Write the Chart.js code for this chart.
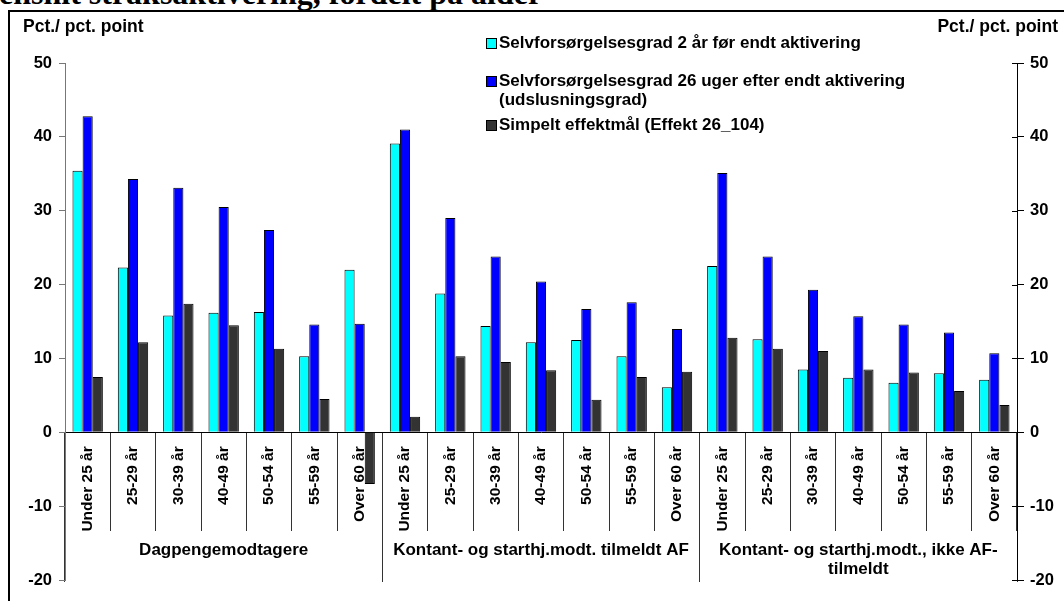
<!DOCTYPE html>
<html>
<head>
<meta charset="utf-8">
<script src="https://cdn.jsdelivr.net/npm/chart.js@4.4.0/dist/chart.umd.min.js"></script>
<style>
  html, body { margin: 0; padding: 0; background: #fff; }
  #wrap { position: relative; width: 1064px; height: 601px; overflow: hidden; }
  #title { position: absolute; left: -1px; top: -23px; font: bold 32px 'Liberation Serif', 'Times New Roman', serif; line-height: 32px; white-space: nowrap; }
  #frame { position: absolute; left: 8px; top: 10px; width: 1100px; height: 700px; border-top: 2px solid #000; border-left: 2px solid #000; }
  #box { position: absolute; left: 0; top: 0; width: 1064px; height: 601px; }
</style>
</head>
<body>
<div id="wrap">
  <div id="title">ensnit straksaktivering, fordelt på alder</div>
  <div id="frame"></div>
  <div id="box"><canvas id="chart"></canvas></div>
</div>
<script>
// Aldersgrupper – gentages for hver af de tre modtagergrupper
const ages = ['Under 25 år', '25-29 år', '30-39 år', '40-49 år', '50-54 år', '55-59 år', 'Over 60 år'];
const groups = ['Dagpengemodtagere', 'Kontant- og starthj.modt. tilmeldt AF', ['Kontant- og starthj.modt., ikke AF-', 'tilmeldt']];
const categories = [...ages, ...ages, ...ages];

// Serier
const selvFoer = [35.4, 22.3, 15.8, 16.2, 16.3, 10.3, 22.0, 39.1, 18.8, 14.4, 12.2, 12.5, 10.3, 6.1, 22.5, 12.6, 8.5, 7.4, 6.7, 8.0, 7.1];
const udslusning = [42.8, 34.3, 33.1, 30.5, 27.4, 14.6, 14.7, 41.0, 29.0, 23.8, 20.4, 16.7, 17.6, 14.0, 35.1, 23.8, 19.3, 15.7, 14.6, 13.5, 10.7];
const effekt = [7.5, 12.2, 17.4, 14.5, 11.3, 4.5, -7.0, 2.1, 10.3, 9.5, 8.4, 4.4, 7.5, 8.2, 12.8, 11.3, 11.0, 8.5, 8.1, 5.6, 3.7];

const seriesNames = [
  ['Selvforsørgelsesgrad 2 år før endt aktivering'],
  ['Selvforsørgelsesgrad 26 uger efter endt aktivering', '(udslusningsgrad)'],
  ['Simpelt effektmål (Effekt 26_104)']
];
const seriesColors = ['#00ffff', '#0000ff', '#333333'];
const axisTitle = 'Pct./ pct. point';
const yMin = -20, yMax = 50, yStep = 10;

const FAMILY = '"Liberation Sans", Arial, sans-serif';
const boldFont = size => ({ family: FAMILY, size, weight: 'bold' });

// Aksetitler og forklaring tegnes selv (layoutet er ikke Chart.js-standard)
const textPlugin = {
  id: 'texte',
  afterDraw(chart) {
    const ctx = chart.ctx;
    ctx.save();
    ctx.fillStyle = '#000';
    ctx.font = 'bold 17.5px ' + FAMILY;
    ctx.textBaseline = 'middle';
    ctx.textAlign = 'left';
    ctx.fillText(axisTitle, 23, 27);
    ctx.textAlign = 'right';
    ctx.fillText(axisTitle, 1058, 27);

    // kasserne krydser højre akse lidt
    const y2 = chart.scales.y2;
    ctx.strokeStyle = '#000';
    ctx.lineWidth = 1;
    y2.ticks.forEach(t => {
      const py = Math.round(y2.getPixelForValue(t.value)) + 0.5;
      ctx.beginPath();
      ctx.moveTo(y2.left - 5, py);
      ctx.lineTo(y2.left, py);
      ctx.stroke();
    });

    ctx.font = 'bold 17px ' + FAMILY;
    ctx.textAlign = 'left';
    const rows = [[43], [81, 100], [125]];
    chart.data.datasets.forEach((ds, i) => {
      const ys = rows[i];
      ctx.fillStyle = ds.backgroundColor;
      ctx.fillRect(486.5, ys[0] - 4.5, 10, 10);
      ctx.strokeStyle = '#000';
      ctx.strokeRect(486.5, ys[0] - 4.5, 10, 10);
      ctx.fillStyle = '#000';
      seriesNames[i].forEach((line, j) => ctx.fillText(line, 499, ys[j]));
    });
    ctx.restore();
  }
};

new Chart(document.getElementById('chart'), {
  type: 'bar',
  data: {
    labels: categories,
    datasets: [selvFoer, udslusning, effekt].map((data, i) => ({
      label: seriesNames[i].join(' '),
      data,
      backgroundColor: seriesColors[i],
      borderColor: '#000',
      borderWidth: 1,
      barPercentage: 1,
      categoryPercentage: 0.67
    }))
  },
  options: {
    responsive: true,
    maintainAspectRatio: false,
    animation: false,
    layout: { padding: { left: 0, right: 0, top: 63, bottom: 21 } },
    plugins: {
      legend: { display: false },
      tooltip: { enabled: false }
    },
    scales: {
      x: {
        type: 'category',
        position: { y: 0 },
        offset: true,
        grid: { drawOnChartArea: false, drawTicks: true, tickLength: 98, color: '#333' },
        border: { display: true, color: '#000' },
        ticks: { autoSkip: false, minRotation: 90, maxRotation: 90, padding: -84, color: '#000', font: boldFont(15.5) }
      },
      x2: {
        type: 'category',
        labels: groups,
        position: { y: 0 },
        offset: true,
        grid: { drawOnChartArea: false, drawTicks: true, tickLength: 150, color: '#333' },
        border: { display: false },
        ticks: { autoSkip: false, maxRotation: 0, padding: -41, color: '#000', font: { ...boldFont(17), lineHeight: 1.1 } }
      },
      y: {
        position: 'left',
        min: yMin, max: yMax,
        afterFit: s => { s.width = 65; },
        grid: { drawOnChartArea: false, tickLength: 6, color: '#777' },
        border: { color: '#777' },
        ticks: { stepSize: yStep, padding: 7, color: '#000', font: boldFont(16.5) }
      },
      y2: {
        position: 'right',
        min: yMin, max: yMax,
        afterFit: s => { s.width = 47; },
        grid: { drawOnChartArea: false, tickLength: 7, color: '#000' },
        border: { color: '#000' },
        ticks: { stepSize: yStep, padding: 6, color: '#000', font: boldFont(16.5) }
      }
    }
  },
  plugins: [textPlugin]
});
</script>
</body>
</html>
